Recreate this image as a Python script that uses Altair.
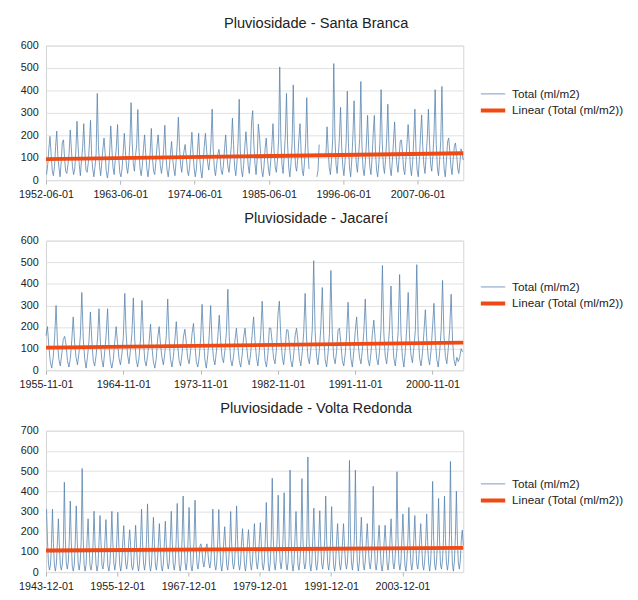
import altair as alt
import pandas as pd

FONT = "Liberation Sans"
TEXT = "#222222"
BLUE = "#5582ac"
ORANGE = "#f04a14"
SERIES = "Total (ml/m2)"
TREND = "Linear (Total (ml/m2))"

# Bi-monthly readings (Jan, Mar, May, Jul, Sep, Nov); None = missing month
sb_first = "1952-07-01"
sb_values = [
    25, 70, 140,                    # 1952 (Jul-Nov)
    195, 120, 45, 20, 60, 150,      # 1953
    219, 110, 55, 15, 85, 170,      # 1954
    180, 95, 40, 30, 70, 120,       # 1955
    224, 140, 60, 25, 50, 135,      # 1956
    263, 150, 70, 20, 90, 145,      # 1957
    252, 130, 45, 35, 75, 160,      # 1958
    267, 110, 50, 15, 60, 120,      # 1959
    387, 160, 65, 20, 80, 140,      # 1960
    188, 120, 40, 10, 45, 130,      # 1961
    242, 140, 55, 25, 95, 150,      # 1962
    248, 105, 35, 15, 50, 125,      # 1963
    209, 130, 60, 30, 80, 175,      # 1964
    346, 170, 75, 40, 110, 160,     # 1965
    315, 145, 50, 20, 65, 140,      # 1966
    202, 120, 55, 15, 55, 130,      # 1967
    231, 100, 40, 25, 80, 150,      # 1968
    202, 135, 65, 30, 70, 145,      # 1969
    245, 110, 45, 15, 60, 120,      # 1970
    173, 95, 50, 20, 85, 165,       # 1971
    281, 150, 70, 35, 90, 130,      # 1972
    159, 110, 45, 20, 60, 140,      # 1973
    214, 125, 55, 15, 50, 135,      # 1974
    209, 100, 40, 10, 75, 150,      # 1975
    209, 140, 80, 45, 95, 175,      # 1976
    317, 130, 50, 20, 70, 115,      # 1977
    137, 105, 45, 25, 65, 140,      # 1978
    202, 120, 60, 35, 90, 155,      # 1979
    277, 160, 55, 20, 80, 170,      # 1980
    361, 130, 45, 15, 70, 150,      # 1981
    216, 145, 65, 30, 100, 260,     # 1982
    310, 170, 75, 25, 95, 250,      # 1983
    200, 120, 45, 15, 60, 140,      # 1984
    188, 110, 50, 20, 85, 155,      # 1985
    252, 135, 60, 35, 90, 180,      # 1986
    505, 190, 70, 30, 110, 200,     # 1987
    387, 160, 55, 15, 75, 170,      # 1988
    425, 175, 65, 40, 95, 185,      # 1989
    252, 130, 45, 20, 80, 165,      # 1990
    368, 150, 50, None, None, None, # 1991
    None, None, None, 15, 45, 159,  # 1992
    None, None, None, None, None, 110,  # 1993
    238, 140, 55, 25, 90, 180,      # 1994
    520, 200, 70, 30, 105, 190,     # 1995
    325, 150, 60, 20, 85, 175,      # 1996
    397, 165, 55, 15, 95, 200,      # 1997
    354, 170, 75, 35, 110, 185,     # 1998
    440, 160, 50, 20, 80, 170,      # 1999
    289, 145, 60, 25, 100, 210,     # 2000
    289, 130, 45, 15, 75, 180,      # 2001
    404, 175, 65, 30, 95, 190,      # 2002
    339, 150, 55, 20, 85, 170,      # 2003
    260, 140, 70, 35, 100, 175,     # 2004
    180, 125, 50, 25, 90, 165,      # 2005
    248, 160, 60, 20, 80, 185,      # 2006
    317, 135, 45, 15, 95, 200,      # 2007
    291, 150, 65, 30, 105, 190,     # 2008
    317, 170, 70, 40, 110, 210,     # 2009
    404, 160, 55, 20, 90, 180,      # 2010
    418, 145, 50, 15, 85, 170,      # 2011
    188, 130, 60, 25, 95, 150,      # 2012
    166, 120, 55, 30, 80, 140,      # 2013
    115, 90,                        # 2014 (Jan, Mar)
]

ja_first = "1955-11-01"
ja_values = [
    160,                            # 1955 (Nov)
    202, 110, 40, 10, 60, 150,      # 1956
    300, 130, 50, 20, 75, 142,      # 1957
    157, 120, 45, 15, 55, 140,      # 1958
    247, 125, 60, 25, 80, 160,      # 1959
    360, 150, 55, 10, 65, 135,      # 1960
    270, 140, 45, 20, 70, 150,      # 1961
    285, 130, 50, 15, 85, 165,      # 1962
    285, 115, 40, 10, 50, 130,      # 1963
    202, 125, 55, 25, 75, 155,      # 1964
    356, 165, 70, 30, 95, 170,      # 1965
    335, 140, 50, 15, 60, 145,      # 1966
    323, 150, 45, 20, 70, 130,      # 1967
    214, 110, 40, 10, 55, 150,      # 1968
    202, 120, 60, 25, 80, 160,      # 1969
    330, 145, 50, 15, 65, 140,      # 1970
    225, 115, 45, 20, 75, 155,      # 1971
    190, 130, 55, 30, 90, 170,      # 1972
    217, 120, 40, 15, 60, 145,      # 1973
    305, 150, 50, 10, 70, 160,      # 1974
    300, 135, 55, 25, 85, 150,      # 1975
    255, 140, 60, 35, 95, 175,      # 1976
    375, 155, 50, 20, 65, 140,      # 1977
    195, 115, 45, 15, 70, 150,      # 1978
    195, 125, 55, 25, 80, 165,      # 1979
    247, 140, 60, 20, 90, 170,      # 1980
    320, 150, 45, 15, 75, 195,      # 1981
    195, 130, 55, 30, 100, 255,     # 1982
    320, 160, 65, 25, 90, 187,      # 1983
    187, 120, 45, 15, 70, 160,      # 1984
    195, 135, 55, 20, 85, 175,      # 1985
    356, 150, 60, 30, 95, 190,      # 1986
    507, 180, 65, 25, 100, 200,     # 1987
    383, 160, 50, 15, 80, 170,      # 1988
    462, 170, 60, 30, 90, 185,      # 1989
    195, 125, 45, 20, 75, 165,      # 1990
    315, 145, 55, 15, 85, 180,      # 1991
    247, 130, 60, 30, 95, 175,      # 1992
    330, 150, 50, 20, 80, 170,      # 1993
    232, 140, 55, 25, 90, 190,      # 1994
    485, 175, 65, 30, 100, 200,     # 1995
    390, 160, 55, 20, 85, 180,      # 1996
    443, 170, 60, 15, 90, 195,      # 1997
    360, 150, 70, 35, 105, 185,     # 1998
    489, 165, 55, 20, 80, 175,      # 1999
    280, 145, 60, 25, 95, 200,      # 2000
    310, 140, 50, 15, 85, 185,      # 2001
    416, 165, 65, 30, 100, 190,     # 2002
    352, 140, 50, 20, 60, 40,       # 2003
    60, 100, 85,                    # 2004 (Jan, Mar, May)
]

vr_first = "1944-01-01"
vr_values = [
    312, 150, 40, 10, 35, 140,      # 1944
    312, 140, 30, 5, 45, 150,       # 1945
    264, 130, 35, 10, 40, 135,      # 1946
    445, 170, 45, 15, 50, 160,      # 1947
    352, 150, 30, 5, 35, 145,       # 1948
    328, 160, 40, 10, 50, 150,      # 1949
    513, 180, 35, 5, 40, 165,       # 1950
    264, 130, 30, 10, 45, 140,      # 1951
    301, 140, 40, 5, 35, 150,       # 1952
    280, 150, 35, 15, 55, 155,      # 1953
    260, 135, 30, 5, 40, 140,       # 1954
    301, 145, 45, 10, 50, 160,      # 1955
    296, 140, 35, 5, 45, 150,       # 1956
    230, 125, 40, 15, 55, 145,      # 1957
    210, 130, 30, 10, 40, 140,      # 1958
    232, 120, 35, 5, 50, 155,       # 1959
    312, 150, 45, 10, 45, 160,      # 1960
    338, 165, 40, 5, 35, 150,       # 1961
    272, 140, 35, 10, 55, 145,      # 1962
    240, 125, 30, 5, 40, 140,       # 1963
    252, 135, 45, 15, 50, 155,      # 1964
    301, 150, 40, 10, 45, 165,      # 1965
    340, 160, 35, 5, 40, 170,       # 1966
    377, 155, 45, 10, 50, 160,      # 1967
    320, 145, 30, 5, 45, 155,       # 1968
    356, 150, 40, 15, 55, 130,      # 1969
    140, 110, 50, 25, 60, 120,      # 1970
    140, 100, 45, 20, 55, 150,      # 1971
    312, 145, 35, 10, 50, 160,      # 1972
    310, 150, 40, 5, 45, 150,       # 1973
    225, 130, 35, 10, 55, 140,      # 1974
    300, 145, 45, 15, 50, 155,      # 1975
    328, 155, 40, 10, 45, 150,      # 1976
    215, 125, 35, 5, 50, 145,       # 1977
    210, 135, 40, 10, 55, 150,      # 1978
    240, 130, 45, 15, 60, 160,      # 1979
    245, 140, 35, 10, 50, 165,      # 1980
    345, 160, 40, 5, 45, 170,       # 1981
    465, 180, 45, 10, 55, 175,      # 1982
    381, 165, 50, 15, 60, 180,      # 1983
    393, 160, 40, 10, 50, 170,      # 1984
    505, 185, 45, 5, 45, 175,       # 1985
    300, 150, 35, 10, 55, 160,      # 1986
    463, 175, 45, 15, 50, 170,      # 1987
    570, 190, 40, 5, 45, 175,       # 1988
    317, 150, 35, 10, 55, 165,      # 1989
    304, 145, 40, 15, 60, 160,      # 1990
    377, 160, 45, 10, 50, 170,      # 1991
    324, 150, 35, 5, 45, 155,       # 1992
    240, 135, 40, 10, 55, 150,      # 1993
    240, 130, 45, 15, 50, 160,      # 1994
    553, 190, 50, 10, 60, 180,      # 1995
    505, 180, 40, 5, 50, 170,       # 1996
    272, 145, 35, 10, 55, 160,      # 1997
    240, 135, 45, 15, 60, 155,      # 1998
    425, 170, 40, 10, 50, 165,      # 1999
    232, 130, 35, 5, 45, 150,       # 2000
    232, 140, 40, 10, 55, 160,      # 2001
    264, 145, 45, 15, 60, 165,      # 2002
    497, 180, 40, 10, 50, 170,      # 2003
    288, 150, 35, 5, 55, 160,       # 2004
    320, 155, 45, 10, 50, 165,      # 2005
    280, 145, 40, 15, 60, 160,      # 2006
    240, 135, 35, 10, 55, 150,      # 2007
    288, 150, 45, 5, 50, 165,       # 2008
    449, 175, 40, 10, 55, 170,      # 2009
    365, 160, 35, 15, 60, 165,      # 2010
    377, 165, 45, 10, 50, 170,      # 2011
    548, 185, 40, 5, 55, 175,       # 2012
    400, 170, 45, 15, 60, 165,      # 2013
    208, 130,                       # 2014 (Jan, Mar)
]

# Linear trend end values
sb_trend = [94, 120]
ja_trend = [105, 128]
vr_trend = [107, 120]

sb_ticks = ["1952-06-01", "1963-06-01", "1974-06-01", "1985-06-01", "1996-06-01", "2007-06-01"]
ja_ticks = ["1955-11-01", "1964-11-01", "1973-11-01", "1982-11-01", "1991-11-01", "2000-11-01"]
vr_ticks = ["1943-12-01", "1955-12-01", "1967-12-01", "1979-12-01", "1991-12-01", "2003-12-01"]


def dt(s):
    y, m, d = (int(p) for p in s.split("-"))
    return alt.DateTime(year=y, month=m, date=d, utc=True)


def panel(title, first, values, x_start, x_end, trend_vals, ticks, ymax, height, legend_y):
    dates = pd.date_range(first, periods=len(values), freq="2MS")
    df = pd.DataFrame({"date": dates.strftime("%Y-%m-%d"), "value": values, "serie": SERIES})
    tdf = pd.DataFrame({"date": [x_start, x_end], "value": trend_vals, "serie": TREND})

    legend = alt.Legend(
        title=None, orient="none", legendX=444, legendY=legend_y,
        symbolType="stroke", symbolSize=625, clipHeight=15, rowPadding=2,
        labelOffset=5, labelFontSize=12, labelFont=FONT, labelColor=TEXT,
        labelLimit=400, padding=0,
    )
    color = alt.Color("serie:N", scale=alt.Scale(domain=[SERIES, TREND], range=[BLUE, ORANGE]), legend=legend)
    width = alt.StrokeWidth(
        "serie:N",
        scale=alt.Scale(type="point", domain=[SERIES, TREND], range=[0.8, 4], padding=0),
        legend=legend,
    )
    x = alt.X(
        "date:T",
        scale=alt.Scale(type="utc", domain=[dt(x_start), dt(x_end)], nice=False),
        axis=alt.Axis(
            values=[dt(t) for t in ticks],
            labelExpr="utcFormat(datum.value, '%Y-%m-%d')",
            title=None, grid=False, tickSize=4, tickColor="#b5b5b5", labelPadding=5,
            labelFlush=False, labelOverlap=False, domain=False,
        ),
    )
    y = alt.Y(
        "value:Q",
        scale=alt.Scale(domain=[0, ymax], nice=False),
        axis=alt.Axis(
            values=list(range(0, ymax + 1, 100)), title=None, ticks=False,
            domain=False, labelPadding=8, gridColor="#e0e0e0",
        ),
    )
    line = alt.Chart(df).mark_line(invalid="break-paths-show-domains").encode(
        x=x, y=y, color=color, strokeWidth=width
    )
    trend = alt.Chart(tdf).mark_line().encode(x=x, y=y, color=color, strokeWidth=width)
    return alt.layer(line, trend).properties(
        width=428,
        height=height,
        title=alt.TitleParams(
            text=title, anchor="middle", offset=9, dx=63, fontSize=15, font=FONT,
            fontWeight="normal", color=TEXT,
        ),
    )


p1 = panel("Pluviosidade - Santa Branca", sb_first, sb_values, "1952-06-01", "2014-03-01",
           sb_trend, sb_ticks, 600, 138, 42)
p2 = panel("Pluviosidade - Jacareí", ja_first, ja_values, "1955-11-01", "2004-06-01",
           ja_trend, ja_ticks, 600, 133, 40)
p3 = panel("Pluviosidade - Volta Redonda", vr_first, vr_values, "1943-12-01", "2014-03-01",
           vr_trend, vr_ticks, 700, 145, 47)

chart = (
    alt.vconcat(p1, p2, p3, spacing=10)
    .resolve_scale(color="independent", strokeWidth="independent", x="independent", y="independent")
    .resolve_legend(color="independent", strokeWidth="independent")
    .properties(padding={"left": 10, "top": 0, "right": 5, "bottom": 0})
    .configure_view(stroke="#d4d4d4")
    .configure_axis(labelFont=FONT, labelFontSize=11, labelColor=TEXT)
    .configure_title(font=FONT, fontSize=15, fontWeight="normal", color=TEXT)
)

chart.save("out.html", embed_options={"renderer": "svg", "actions": False})
